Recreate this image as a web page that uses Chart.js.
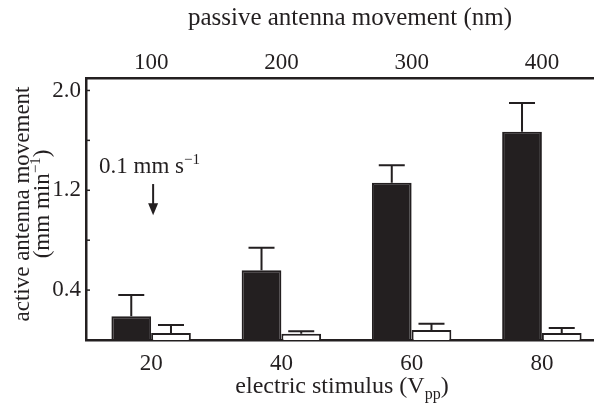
<!DOCTYPE html>
<html>
<head>
<meta charset="utf-8">
<script src="https://cdn.jsdelivr.net/npm/chart.js@4"></script>
<style>
  html, body { margin: 0; padding: 0; background: #fff; overflow: hidden; }
  #wrap { width: 607px; height: 412px; }
</style>
</head>
<body>
<div id="wrap"><canvas id="c" width="607" height="412"></canvas></div>
<script>
const categories = ["20", "40", "60", "80"]
const topLabels = ["100", "200", "300", "400"]
const activeValues = [0.19, 0.56, 1.26, 1.67]
const activeErrors = [0.17, 0.18, 0.14, 0.23]
const passiveValues = [0.056, 0.05, 0.08, 0.056]
const passiveErrors = [0.064, 0.02, 0.05, 0.04]
const yTicks = [0, 0.4, 0.8, 1.2, 1.6, 2.0]
const yTickLabels = ["", "0.4", "", "1.2", "", "2.0"]
const arrowText = "0.1 mm s"
const arrowFrom = 1.25
const arrowTo = 1.0

const ink = "#231f20"
const font = "'Liberation Serif', 'Times New Roman', serif"
const fontSize = 23

// draws text made of pieces, some raised or lowered (super/subscripts)
function richText(ctx, parts, x, y, align) {
  let total = 0
  const widths = parts.map(p => {
    ctx.font = `${p.size}px ${font}`
    const w = ctx.measureText(p.text).width
    total += w
    return w
  })
  let cx = align === "center" ? x - total / 2 : x
  parts.forEach((p, i) => {
    ctx.font = `${p.size}px ${font}`
    ctx.fillText(p.text, cx, y + (p.dy || 0))
    cx += widths[i]
  })
}

const errorBars = {
  id: "errorBars",
  afterDatasetsDraw(chart) {
    const ctx = chart.ctx
    const y = chart.scales.y
    const errs = [activeErrors, passiveErrors]
    ctx.save()
    ctx.strokeStyle = ink
    ctx.lineWidth = 2
    chart.data.datasets.forEach((ds, i) => {
      chart.getDatasetMeta(i).data.forEach((bar, j) => {
        const top = y.getPixelForValue(ds.data[j] + errs[i][j])
        ctx.beginPath()
        ctx.moveTo(bar.x, bar.y)
        ctx.lineTo(bar.x, top)
        ctx.moveTo(bar.x - 13, top)
        ctx.lineTo(bar.x + 13, top)
        ctx.stroke()
      })
    })
    ctx.restore()
  }
}

const extras = {
  id: "extras",
  afterDraw(chart) {
    const ctx = chart.ctx
    const x = chart.scales.x
    const y = chart.scales.y
    const area = chart.chartArea
    ctx.save()
    ctx.fillStyle = ink
    ctx.strokeStyle = ink

    // inward ticks on the left axis
    ctx.lineWidth = 1.5
    yTicks.forEach(v => {
      const py = y.getPixelForValue(v)
      ctx.beginPath()
      ctx.moveTo(area.left, py)
      ctx.lineTo(area.left + 4, py)
      ctx.stroke()
    })

    // axis titles
    ctx.textBaseline = "alphabetic"
    richText(ctx, [{ text: "passive antenna movement (nm)", size: 25 }], 350, 25, "center")
    richText(ctx, [
      { text: "electric stimulus (V", size: 24 },
      { text: "pp", size: 16, dy: 6 },
      { text: ")", size: 24 }
    ], 342, 393, "center")

    ctx.save()
    ctx.translate(29, 204)
    ctx.rotate(-Math.PI / 2)
    richText(ctx, [{ text: "active antenna movement", size: fontSize }], 0, 0, "center")
    ctx.restore()
    ctx.save()
    ctx.translate(49, 204)
    ctx.rotate(-Math.PI / 2)
    richText(ctx, [
      { text: "(mm min", size: fontSize },
      { text: "\u22121", size: 15, dy: -9 },
      { text: ")", size: fontSize }
    ], 0, 0, "center")
    ctx.restore()

    // 0.1 mm/s marker
    const ax = x.getPixelForValue(0) + 2
    const y0 = y.getPixelForValue(arrowFrom)
    const y1 = y.getPixelForValue(arrowTo)
    richText(ctx, [
      { text: arrowText, size: fontSize },
      { text: "\u22121", size: 15, dy: -9 }
    ], 99, y.getPixelForValue(1.34), "left")
    ctx.lineWidth = 2
    ctx.beginPath()
    ctx.moveTo(ax, y0)
    ctx.lineTo(ax, y1 - 8)
    ctx.stroke()
    ctx.beginPath()
    ctx.moveTo(ax - 5, y1 - 12)
    ctx.lineTo(ax + 5, y1 - 12)
    ctx.lineTo(ax, y1)
    ctx.closePath()
    ctx.fill()
    ctx.restore()
  }
}

new Chart(document.getElementById("c"), {
  type: "bar",
  data: {
    labels: categories,
    datasets: [
      {
        label: "active",
        data: activeValues,
        backgroundColor: ink,
        borderColor: ink,
        borderWidth: 2,
        xAxisID: "x"
      },
      {
        label: "passive",
        data: passiveValues,
        backgroundColor: "#ffffff",
        borderColor: ink,
        borderWidth: 2,
        xAxisID: "x"
      }
    ]
  },
  plugins: [errorBars, extras],
  options: {
    responsive: false,
    animation: false,
    layout: { padding: 0 },
    plugins: { legend: { display: false }, tooltip: { enabled: false } },
    datasets: { bar: { categoryPercentage: 0.61, barPercentage: 1.0 } },
    scales: {
      x: {
        position: "bottom",
        grid: { display: false, drawTicks: false },
        border: { display: true, color: ink, width: 2.5 },
        ticks: { color: ink, font: { family: font, size: fontSize }, padding: 10 },
        afterFit: s => { s.height = 72 }
      },
      x2: {
        type: "category",
        position: "top",
        labels: topLabels,
        grid: { display: false, drawTicks: false },
        border: { display: true, color: ink, width: 2.5 },
        ticks: { color: ink, font: { family: font, size: fontSize }, padding: 1 },
        afterFit: s => { s.height = 78 }
      },
      y: {
        min: 0,
        max: 2.1,
        grid: { display: false, drawTicks: false },
        border: { display: true, color: ink, width: 2.5 },
        afterBuildTicks: s => { s.ticks = yTicks.map(v => ({ value: v })) },
        ticks: {
          color: ink,
          font: { family: font, size: fontSize },
          padding: 5,
          callback: (v, i) => yTickLabels[i]
        },
        afterFit: s => { s.width = 86 }
      }
    }
  }
})
</script>
</body>
</html>
